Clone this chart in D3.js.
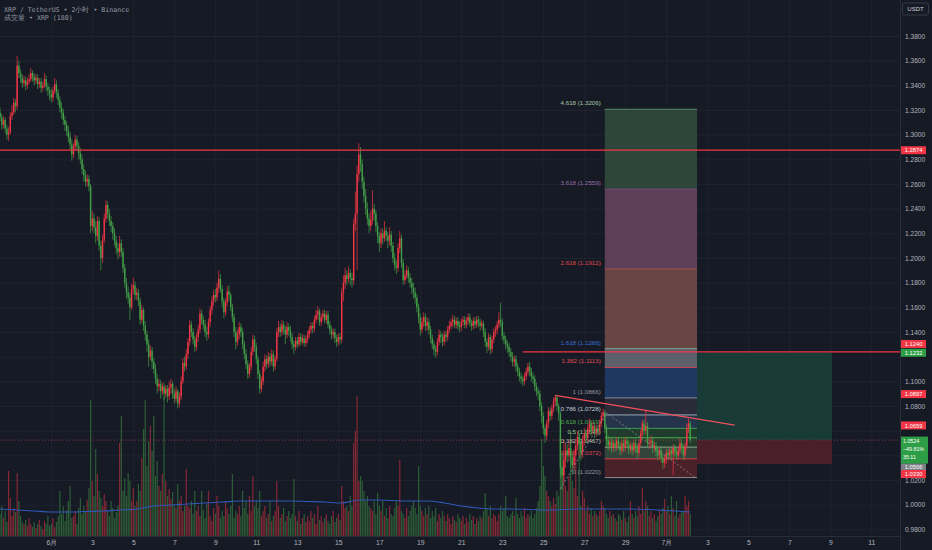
<!DOCTYPE html>
<html>
<head>
<meta charset="utf-8">
<script src="https://cdn.jsdelivr.net/npm/d3@7"></script>
<style>
html, body { margin: 0; padding: 0; background: #161a25; overflow: hidden; }
text { font-family: "Liberation Sans", "DejaVu Sans", sans-serif; }
</style>
</head>
<body>
<div id="chart"></div>
<script>
// XRP/USDT 2h candles, 29 May 12:00 -> 2 Jul
var startTime = Date.UTC(2025, 4, 29, 12);
var barMs = 2 * 3600 * 1000;
var firstOpen = 1.318;

var closes = [
  1.314,1.308,1.312,1.305,1.300,1.302,1.315,1.318,1.326,1.323,
  1.356,1.350,1.346,1.342,1.344,1.340,1.343,1.345,1.350,1.347,
  1.344,1.346,1.341,1.343,1.338,1.340,1.345,1.339,1.336,1.333,
  1.330,1.336,1.341,1.334,1.328,1.322,1.318,1.312,1.308,1.303,
  1.298,1.292,1.284,1.290,1.296,1.291,1.285,1.280,1.272,1.267,
  1.262,1.264,1.258,1.226,1.232,1.225,1.218,1.230,1.210,1.200,
  1.215,1.232,1.243,1.236,1.230,1.226,1.220,1.214,1.208,1.205,
  1.212,1.205,1.192,1.180,1.172,1.168,1.160,1.175,1.178,1.170,
  1.172,1.165,1.150,1.158,1.145,1.138,1.130,1.120,1.125,1.116,
  1.110,1.102,1.096,1.098,1.092,1.096,1.090,1.094,1.088,1.095,
  1.098,1.090,1.086,1.092,1.082,1.088,1.100,1.115,1.112,1.122,
  1.132,1.146,1.140,1.134,1.128,1.136,1.142,1.155,1.150,1.146,
  1.140,1.138,1.148,1.158,1.165,1.170,1.168,1.176,1.183,1.175,
  1.165,1.156,1.164,1.173,1.170,1.160,1.152,1.140,1.132,1.138,
  1.144,1.140,1.130,1.122,1.114,1.106,1.112,1.124,1.134,1.128,
  1.118,1.106,1.094,1.100,1.112,1.118,1.114,1.120,1.116,1.122,
  1.112,1.118,1.140,1.144,1.140,1.146,1.142,1.138,1.144,1.141,
  1.136,1.130,1.128,1.133,1.130,1.136,1.132,1.135,1.131,1.134,
  1.138,1.142,1.145,1.143,1.150,1.154,1.157,1.148,1.152,1.155,
  1.150,1.154,1.146,1.142,1.138,1.140,1.135,1.132,1.136,1.134,
  1.172,1.180,1.186,1.183,1.188,1.184,1.182,1.228,1.236,1.268,
  1.284,1.276,1.262,1.250,1.240,1.232,1.226,1.231,1.240,1.236,
  1.226,1.218,1.212,1.220,1.216,1.222,1.218,1.214,1.219,1.210,
  1.200,1.194,1.192,1.208,1.216,1.196,1.182,1.186,1.190,1.184,
  1.180,1.176,1.172,1.168,1.160,1.152,1.142,1.148,1.152,1.145,
  1.148,1.142,1.135,1.130,1.126,1.124,1.132,1.138,1.136,1.132,
  1.138,1.136,1.142,1.145,1.148,1.150,1.146,1.149,1.145,1.144,
  1.148,1.150,1.146,1.149,1.152,1.147,1.145,1.149,1.146,1.150,
  1.148,1.145,1.147,1.140,1.132,1.128,1.136,1.126,1.134,1.140,
  1.142,1.146,1.150,1.148,1.137,1.134,1.130,1.128,1.124,1.120,
  1.116,1.118,1.112,1.108,1.104,1.102,1.100,1.104,1.108,1.112,
  1.108,1.104,1.102,1.096,1.092,1.090,1.080,1.072,1.062,1.056,
  1.066,1.076,1.072,1.078,1.084,1.087,1.080,1.074,1.030,1.024,
  1.036,1.044,1.040,1.046,1.038,1.032,1.040,1.048,1.055,1.050,
  1.042,1.052,1.058,1.054,1.062,1.066,1.060,1.064,1.058,1.062,
  1.060,1.066,1.072,1.075,1.062,1.052,1.048,1.051,1.046,1.050,
  1.047,1.052,1.048,1.044,1.050,1.046,1.052,1.049,1.045,1.048,
  1.044,1.050,1.046,1.042,1.050,1.058,1.066,1.060,1.064,1.050,
  1.050,1.052,1.046,1.048,1.043,1.040,1.044,1.038,1.034,1.037,
  1.042,1.040,1.044,1.041,1.046,1.043,1.040,1.044,1.050,1.046,
  1.040,1.048,1.062,1.066,1.0524
];

var highs = [
  1.322,1.317,1.315,1.314,1.308,1.306,1.318,1.324,1.330,1.329,
  1.364,1.360,1.353,1.349,1.348,1.347,1.346,1.349,1.354,1.352,
  1.350,1.349,1.349,1.346,1.346,1.343,1.350,1.348,1.342,1.339,
  1.337,1.339,1.346,1.344,1.337,1.331,1.326,1.321,1.315,1.311,
  1.307,1.302,1.296,1.293,1.300,1.299,1.294,1.289,1.284,1.276,
  1.271,1.268,1.267,1.260,1.238,1.236,1.230,1.234,1.233,1.214,
  1.219,1.236,1.247,1.246,1.240,1.234,1.229,1.224,1.218,1.212,
  1.218,1.215,1.208,1.195,1.184,1.177,1.172,1.179,1.184,1.181,
  1.176,1.175,1.168,1.162,1.160,1.149,1.141,1.134,1.129,1.128,
  1.119,1.114,1.106,1.102,1.101,1.099,1.099,1.097,1.097,1.100,
  1.102,1.100,1.094,1.096,1.094,1.091,1.104,1.119,1.120,1.126,
  1.135,1.150,1.149,1.143,1.137,1.139,1.146,1.159,1.158,1.153,
  1.150,1.144,1.151,1.161,1.169,1.174,1.175,1.180,1.190,1.187,
  1.178,1.168,1.167,1.177,1.178,1.172,1.163,1.155,1.144,1.142,
  1.148,1.147,1.143,1.133,1.126,1.117,1.115,1.128,1.138,1.137,
  1.131,1.121,1.109,1.104,1.116,1.122,1.121,1.124,1.123,1.126,
  1.125,1.121,1.143,1.149,1.147,1.150,1.149,1.145,1.148,1.147,
  1.145,1.139,1.133,1.136,1.136,1.139,1.139,1.138,1.138,1.137,
  1.141,1.145,1.148,1.148,1.153,1.158,1.161,1.159,1.155,1.158,
  1.158,1.157,1.157,1.149,1.145,1.143,1.143,1.138,1.139,1.139,
  1.176,1.186,1.192,1.190,1.193,1.191,1.188,1.232,1.254,1.275,
  1.293,1.290,1.280,1.266,1.256,1.245,1.236,1.238,1.255,1.244,
  1.239,1.229,1.221,1.224,1.224,1.230,1.225,1.221,1.225,1.222,
  1.213,1.204,1.198,1.212,1.222,1.219,1.199,1.190,1.194,1.193,
  1.188,1.184,1.180,1.176,1.171,1.163,1.155,1.152,1.156,1.155,
  1.152,1.151,1.145,1.138,1.133,1.129,1.135,1.142,1.141,1.139,
  1.141,1.141,1.145,1.149,1.151,1.154,1.153,1.152,1.152,1.149,
  1.151,1.153,1.153,1.152,1.155,1.155,1.150,1.152,1.152,1.153,
  1.153,1.151,1.150,1.149,1.143,1.135,1.139,1.138,1.137,1.143,
  1.145,1.149,1.156,1.164,1.151,1.140,1.137,1.133,1.131,1.127,
  1.124,1.121,1.121,1.115,1.111,1.107,1.105,1.107,1.111,1.115,
  1.116,1.111,1.107,1.105,1.099,1.095,1.093,1.083,1.075,1.065,
  1.069,1.079,1.079,1.081,1.087,1.089,1.088,1.082,1.076,1.042,
  1.040,1.050,1.049,1.052,1.050,1.042,1.045,1.053,1.060,1.058,
  1.054,1.056,1.062,1.061,1.065,1.070,1.068,1.067,1.067,1.065,
  1.065,1.069,1.075,1.078,1.077,1.065,1.056,1.054,1.054,1.053,
  1.053,1.055,1.055,1.051,1.053,1.053,1.055,1.055,1.052,1.051,
  1.051,1.053,1.053,1.049,1.053,1.061,1.069,1.069,1.076,1.067,
  1.054,1.056,1.055,1.051,1.051,1.047,1.047,1.047,1.041,1.040,
  1.045,1.046,1.047,1.047,1.049,1.049,1.046,1.047,1.054,1.053,
  1.049,1.051,1.066,1.070,1.068
];

var lows = [
  1.311,1.304,1.305,1.301,1.296,1.295,1.300,1.312,1.316,1.318,
  1.320,1.346,1.342,1.338,1.339,1.336,1.337,1.341,1.343,1.343,
  1.340,1.341,1.337,1.338,1.334,1.335,1.338,1.335,1.331,1.328,
  1.326,1.327,1.333,1.330,1.324,1.318,1.313,1.308,1.303,1.299,
  1.294,1.288,1.279,1.281,1.287,1.287,1.280,1.276,1.268,1.262,
  1.258,1.258,1.254,1.220,1.222,1.220,1.212,1.214,1.206,1.190,
  1.196,1.212,1.229,1.232,1.226,1.221,1.215,1.210,1.203,1.199,
  1.201,1.201,1.188,1.176,1.167,1.163,1.150,1.158,1.171,1.166,
  1.166,1.161,1.146,1.147,1.141,1.133,1.124,1.112,1.117,1.110,
  1.106,1.098,1.090,1.092,1.086,1.089,1.085,1.087,1.083,1.085,
  1.090,1.086,1.082,1.083,1.078,1.079,1.085,1.098,1.108,1.109,
  1.118,1.129,1.136,1.130,1.124,1.125,1.132,1.139,1.146,1.142,
  1.136,1.133,1.135,1.144,1.154,1.161,1.164,1.165,1.172,1.172,
  1.160,1.151,1.153,1.161,1.165,1.157,1.148,1.136,1.126,1.129,
  1.134,1.136,1.126,1.118,1.110,1.102,1.103,1.109,1.121,1.124,
  1.114,1.102,1.090,1.091,1.097,1.108,1.110,1.111,1.112,1.113,
  1.108,1.109,1.116,1.136,1.136,1.137,1.138,1.130,1.135,1.137,
  1.132,1.126,1.122,1.125,1.127,1.128,1.129,1.130,1.128,1.128,
  1.131,1.135,1.139,1.139,1.140,1.147,1.150,1.145,1.145,1.149,
  1.147,1.147,1.143,1.138,1.134,1.135,1.131,1.128,1.129,1.130,
  1.131,1.165,1.175,1.178,1.180,1.178,1.176,1.178,1.222,1.190,
  1.262,1.270,1.256,1.245,1.235,1.227,1.220,1.222,1.227,1.230,
  1.221,1.212,1.205,1.208,1.211,1.213,1.214,1.208,1.210,1.205,
  1.196,1.190,1.187,1.189,1.204,1.192,1.178,1.179,1.183,1.180,
  1.176,1.171,1.167,1.163,1.156,1.147,1.137,1.139,1.144,1.141,
  1.141,1.138,1.131,1.126,1.121,1.119,1.121,1.129,1.131,1.128,
  1.129,1.132,1.133,1.139,1.142,1.144,1.143,1.143,1.142,1.140,
  1.141,1.145,1.143,1.143,1.146,1.144,1.141,1.142,1.143,1.143,
  1.144,1.141,1.142,1.136,1.128,1.123,1.125,1.122,1.123,1.131,
  1.136,1.138,1.143,1.144,1.133,1.130,1.126,1.123,1.120,1.116,
  1.112,1.112,1.108,1.104,1.100,1.098,1.096,1.097,1.101,1.105,
  1.104,1.100,1.098,1.092,1.088,1.085,1.076,1.066,1.057,1.050,
  1.052,1.062,1.068,1.069,1.075,1.080,1.076,1.068,1.022,1.012,
  1.018,1.030,1.034,1.035,1.030,1.024,1.028,1.036,1.044,1.044,
  1.036,1.038,1.048,1.050,1.051,1.058,1.056,1.057,1.054,1.055,
  1.056,1.057,1.063,1.068,1.058,1.048,1.044,1.045,1.042,1.043,
  1.043,1.044,1.045,1.040,1.041,1.043,1.043,1.046,1.041,1.042,
  1.040,1.041,1.042,1.037,1.039,1.047,1.055,1.056,1.057,1.046,
  1.045,1.046,1.042,1.043,1.039,1.036,1.037,1.034,1.029,1.030,
  1.033,1.036,1.037,1.037,1.024,1.039,1.036,1.037,1.041,1.042,
  1.036,1.037,1.045,1.058,1.050
];

// volume in millions of XRP
var volumes = [
  22,30,18,25,14,65,38,20,28,24,
  63,35,20,14,12,16,10,18,12,9,
  14,8,12,16,10,7,15,12,20,10,
  12,18,9,14,20,45,22,30,15,26,
  35,50,18,20,25,12,28,38,22,30,
  25,36,48,136,55,40,87,62,45,38,
  30,42,35,25,20,35,28,18,24,30,
  93,120,45,58,40,63,55,35,48,30,
  35,52,45,78,107,136,70,95,110,85,
  120,60,75,50,45,62,140,55,40,47,
  37,44,30,28,52,35,40,25,30,67,
  30,28,35,22,45,25,30,20,45,26,
  18,32,45,20,15,28,22,40,30,18,
  25,20,35,28,22,30,62,18,25,22,
  30,20,45,28,35,22,40,25,60,30,
  35,28,45,20,25,30,18,22,35,15,
  20,25,55,30,18,22,28,15,20,25,
  18,22,57,20,15,25,12,18,22,14,
  20,15,25,18,22,12,30,16,20,14,
  18,22,15,12,20,25,14,18,22,16,
  50,35,28,30,25,40,30,93,105,140,
  55,60,55,45,35,40,30,28,25,35,
  22,43,30,25,35,20,28,18,30,22,
  20,28,35,30,76,25,22,18,28,20,
  25,30,35,28,22,70,30,25,20,28,
  22,30,18,25,20,28,15,22,18,25,
  20,15,22,18,12,20,16,14,22,18,
  15,20,12,18,14,22,16,20,12,18,
  15,20,18,25,43,28,20,30,18,22,
  20,15,22,30,25,28,40,20,18,22,
  25,20,38,22,18,25,20,28,18,22,
  20,25,18,22,28,35,50,97,70,60,
  45,40,35,30,38,32,45,40,100,70,
  96,50,45,60,104,55,48,77,40,102,
  30,45,38,25,30,22,28,20,25,22,
  20,25,35,30,28,22,18,25,20,22,
  18,15,22,20,16,25,18,14,20,35,
  22,18,25,20,30,22,48,25,35,30,
  20,25,18,22,15,20,25,22,28,37,
  25,30,22,40,28,20,35,18,22,25,
  25,40,30,35,22
];

// volume MA(180), read every 10 bars
var maIndex = [0,10,20,30,40,50,60,70,80,90,100,110,120,130,140,150,160,170,180,190,
  200,210,220,230,240,250,260,270,280,290,300,310,320,330,340,350,360,370,380,390,400,404];
var maValues = [27,26,25,24,24,24.5,25,26,27,30,31,32,33,34,35,35,35,35,34.5,34,
  33,36,36,35.5,35,35,33,30,28,27,27,26.5,26,26.5,27,27,27,27,26.5,25.5,24.5,24];

var priceTicks = [0.98,1.00,1.02,1.04,1.06,1.08,1.10,1.12,1.14,1.16,1.18,1.20,
  1.22,1.24,1.26,1.28,1.30,1.32,1.34,1.36,1.38];

var tickDates = ["2025-06-01","2025-06-03","2025-06-05","2025-06-07","2025-06-09","2025-06-11",
  "2025-06-13","2025-06-15","2025-06-17","2025-06-19","2025-06-21","2025-06-23","2025-06-25",
  "2025-06-27","2025-06-29","2025-07-01","2025-07-03","2025-07-05","2025-07-07","2025-07-09","2025-07-11"];
var tickLabels = ["6月","3","5","7","9","11","13","15","17","19","21","23","25","27","29",
  "7月","3","5","7","9","11"];

// trend-based fib extension
var fibRatios = ["0","0.236","0.382","0.5","0.618","0.786","1","1.382","1.618","2.618","3.618","4.618"];
var fibPrices = [1.0220,1.0372,1.0467,1.0543,1.0619,1.0728,1.0866,1.1113,1.1266,1.1912,1.2559,1.3206];
var fibFrom = 354, fibTo = 408;               // bar indexes
var fibPath = [[328, 1.0130], [355, 1.0745], [407, 1.0220]];

// drawings
var resistance = 1.2874;
var targetLine = 1.1240, targetLineFrom = 306;
var trendStart = [325, 1.0887], trendEnd = [430, 1.0646];
var longFrom = 408, longTo = 487;
var longEntry = 1.0522, longTarget = 1.1232, longStop = 1.0330;

var lastPrice = 1.0524;
var lastLines = ["1.0524", "−49.81%", "35:11"];
var markLabels = ["1.2874","1.1240","1.1232","1.0897","1.0659","1.0506","1.0330"];
var markPrices = [1.2874, 1.1240, 1.1232, 1.0897, 1.0659, 1.0506, 1.0330];

// ---------------------------------------------------------------
var width = 932, height = 550, plotRight = 900, timeTop = 536;
var upColor = "#f23645", downColor = "#43a047";

var svg = d3.select("#chart").append("svg")
  .attr("width", width).attr("height", height)
  .style("display", "block");

svg.append("rect").attr("width", width).attr("height", height).attr("fill", "#161a25");

var barTime = function(i) { return new Date(startTime + i * barMs); };

var x = d3.scaleUtc()
  .domain([new Date(startTime), new Date(Date.UTC(2025, 6, 12))])
  .range([0.05, 891.8]);
var y = d3.scaleLinear().domain([0.98, 1.38]).range([529.4, 36]);
var vy = d3.scaleLinear().domain([0, 140]).range([timeTop, 396]);

var tickDateObjs = tickDates.map(function(s) { return new Date(s + "T00:00:00Z"); });

// grid
var grid = svg.append("g");
grid.append("g")
  .call(d3.axisLeft(y).tickValues(priceTicks).tickSize(-plotRight).tickFormat(""))
  .call(function(g) { g.select(".domain").remove(); })
  .selectAll("line").attr("stroke", "#1f2330");
grid.append("g")
  .call(d3.axisTop(x).tickValues(tickDateObjs).tickSize(-timeTop).tickFormat(""))
  .call(function(g) { g.select(".domain").remove(); })
  .selectAll("line").attr("stroke", "#1f2330");

var bars = closes.map(function(c, i) {
  var o = i === 0 ? firstOpen : closes[i - 1];
  return { t: barTime(i), o: o, c: c,
    h: Math.max(highs[i], o, c), l: Math.min(lows[i], o, c), v: volumes[i] };
});

// volume
svg.append("g").selectAll("rect").data(bars).enter().append("rect")
  .attr("x", function(d) { return x(d.t) - 0.6; })
  .attr("width", 1.2)
  .attr("y", function(d) { return vy(d.v); })
  .attr("height", function(d) { return timeTop - vy(d.v); })
  .attr("fill", function(d) { return d.c >= d.o ? upColor : downColor; })
  .attr("opacity", 0.5);

svg.append("path")
  .datum(maIndex.map(function(k, i) { return [k, maValues[i]]; }))
  .attr("fill", "none").attr("stroke", "#2f58b8").attr("stroke-width", 1.1)
  .attr("d", d3.line()
    .x(function(d) { return x(barTime(d[0])); })
    .y(function(d) { return vy(d[1]); })
    .curve(d3.curveMonotoneX));

// fib bands
var fibFill = ["#4a2029","#33453a","#223b2c","#1f3c2c","#25344b","#292c38","#1e3862","#5d5f6b","#6a4545","#5d3f58","#2e4639"];
var fibLine = ["#8a8d96","#d0404b","#8fae93","#4caf50","#3d9a50","#9aa7b8","#8a8d96","#c94450","#7b9e87","#a0504f","#7a4b78","#5a8a6a"];
var fibText = ["#9598a1","#e0474f","#b3c7b3","#8fd393","#4caf50","#c3ccd6","#9598a1","#e04a55","#3f6fd8","#e0474f","#9a6fa6","#a8c7a8"];
var fx0 = x(barTime(fibFrom)), fx1 = x(barTime(fibTo));

var fib = svg.append("g");
fib.selectAll("rect").data(fibPrices.slice(0, -1)).enter().append("rect")
  .attr("x", fx0).attr("width", fx1 - fx0)
  .attr("y", function(d, i) { return y(fibPrices[i + 1]); })
  .attr("height", function(d, i) { return y(d) - y(fibPrices[i + 1]); })
  .attr("fill", function(d, i) { return fibFill[i]; });
fib.selectAll("line").data(fibPrices).enter().append("line")
  .attr("x1", fx0).attr("x2", fx1)
  .attr("y1", function(d) { return y(d); }).attr("y2", function(d) { return y(d); })
  .attr("stroke", function(d, i) { return fibLine[i]; }).attr("stroke-width", 1);
fib.selectAll("text").data(fibPrices).enter().append("text")
  .attr("x", fx0 - 4).attr("y", function(d) { return y(d) - 4; })
  .attr("text-anchor", "end").attr("font-size", 6.2)
  .attr("fill", function(d, i) { return fibText[i]; })
  .text(function(d, i) { return fibRatios[i] + " (" + d.toFixed(4) + ")"; });

// long position tool
var lx0 = x(barTime(longFrom)), lx1 = x(barTime(longTo));
svg.append("rect").attr("x", lx0).attr("width", lx1 - lx0)
  .attr("y", y(longTarget)).attr("height", y(longEntry) - y(longTarget))
  .attr("fill", "#183b38");
svg.append("rect").attr("x", lx0).attr("width", lx1 - lx0)
  .attr("y", y(longEntry)).attr("height", y(longStop) - y(longEntry))
  .attr("fill", "#4a1f29");

// current price dotted line
svg.append("line").attr("x1", 0).attr("x2", plotRight)
  .attr("y1", y(lastPrice)).attr("y2", y(lastPrice))
  .attr("stroke", "#b04452").attr("stroke-dasharray", "1,2").attr("stroke-width", 0.8);

// candles
var candle = svg.append("g").selectAll("g").data(bars).enter().append("g");
candle.append("line")
  .attr("x1", function(d) { return x(d.t); }).attr("x2", function(d) { return x(d.t); })
  .attr("y1", function(d) { return y(d.h); }).attr("y2", function(d) { return y(d.l); })
  .attr("stroke", function(d) { return d.c >= d.o ? upColor : downColor; })
  .attr("stroke-width", 0.7);
candle.append("rect")
  .attr("x", function(d) { return x(d.t) - 0.7; })
  .attr("width", 1.4)
  .attr("y", function(d) { return y(Math.max(d.o, d.c)); })
  .attr("height", function(d) { return Math.max(0.8, Math.abs(y(d.o) - y(d.c))); })
  .attr("fill", function(d) { return d.c >= d.o ? upColor : downColor; });

// fib anchor path
svg.append("path")
  .datum(fibPath)
  .attr("fill", "none").attr("stroke", "#8a8d96").attr("stroke-width", 0.8)
  .attr("stroke-dasharray", "2,2")
  .attr("d", d3.line()
    .x(function(d) { return x(barTime(d[0])); })
    .y(function(d) { return y(d[1]); }));

// horizontal lines and trend line
svg.append("line").attr("x1", 0).attr("x2", plotRight)
  .attr("y1", y(resistance)).attr("y2", y(resistance))
  .attr("stroke", upColor).attr("stroke-width", 1.2);
svg.append("line").attr("x1", x(barTime(targetLineFrom))).attr("x2", plotRight)
  .attr("y1", y(targetLine)).attr("y2", y(targetLine))
  .attr("stroke", upColor).attr("stroke-width", 1.2);
svg.append("line")
  .attr("x1", x(barTime(trendStart[0]))).attr("y1", y(trendStart[1]))
  .attr("x2", x(barTime(trendEnd[0]))).attr("y2", y(trendEnd[1]))
  .attr("stroke", "#f0505c").attr("stroke-width", 1.2);

// header
svg.append("text").attr("x", 4).attr("y", 11.5)
  .attr("font-size", 6.6).attr("fill", "#9598a1").style("font-family", "DejaVu Sans Mono, monospace")
  .text("XRP / TetherUS • 2小时 • Binance");
svg.append("text").attr("x", 4).attr("y", 20)
  .attr("font-size", 6.6).attr("fill", "#9598a1").style("font-family", "DejaVu Sans Mono, monospace")
  .text("成交量 • XRP (180)");

// axes
svg.append("rect").attr("x", plotRight).attr("y", 0).attr("width", width - plotRight)
  .attr("height", height).attr("fill", "#161a25");
svg.append("line").attr("x1", plotRight + 0.5).attr("x2", plotRight + 0.5)
  .attr("y1", 0).attr("y2", height).attr("stroke", "#2a2e39");
svg.append("line").attr("x1", 0).attr("x2", plotRight)
  .attr("y1", timeTop + 0.5).attr("y2", timeTop + 0.5).attr("stroke", "#2a2e39");

// price labels on the axis: boxes first, so ticks hidden under them can be dropped
var markColors = ["#f23645","#f23645","#2e9e46","#f23645","#f23645","#7f8189","#f23645"];
var markNudge = [0, -7.8, 0, 0, 2, 25, 10];
var ly = y(lastPrice);
var boxes = markPrices.map(function(p, i) {
  var cy = y(p) + markNudge[i];
  return { top: cy - 4, bottom: cy + 4, cy: cy, i: i };
});
var lastBox = { top: ly - 3.5, bottom: ly + 23.5 };
var covered = function(v) {
  var ty = y(v);
  return boxes.concat([lastBox]).some(function(b) { return b.top - 2 < ty && b.bottom + 2 > ty; });
};

var yAxis = svg.append("g").attr("transform", "translate(" + plotRight + ",0)")
  .call(d3.axisRight(y).tickValues(priceTicks.filter(function(v) { return !covered(v); }))
    .tickSize(0).tickPadding(5).tickFormat(d3.format(".4f")));
yAxis.select(".domain").remove();
yAxis.selectAll("text").attr("fill", "#b2b5be").attr("font-size", 6.6)
  .style("font-family", "Liberation Sans, sans-serif");

var xAxis = svg.append("g").attr("transform", "translate(0," + timeTop + ")")
  .call(d3.axisBottom(x).tickValues(tickDateObjs).tickSize(0).tickPadding(4)
    .tickFormat(function(d, i) { return tickLabels[i]; }));
xAxis.select(".domain").remove();
xAxis.selectAll("text").attr("fill", "#b2b5be").attr("font-size", 6.8)
  .style("font-family", "Liberation Sans, sans-serif");

// USDT button
svg.append("rect").attr("x", 902.5).attr("y", 3).attr("width", 26).attr("height", 12)
  .attr("rx", 2).attr("fill", "#161a25").attr("stroke", "#363a45");
svg.append("text").attr("x", 915.5).attr("y", 11.3).attr("text-anchor", "middle")
  .attr("font-size", 6).attr("fill", "#d1d4dc").text("USDT");

var marks = svg.append("g");
boxes.forEach(function(b) {
  marks.append("rect").attr("x", 901).attr("y", b.top).attr("width", 25).attr("height", 8)
    .attr("fill", markColors[b.i]);
  marks.append("text").attr("x", 913.5).attr("y", b.cy + 2.1).attr("text-anchor", "middle")
    .attr("font-size", 5.8).attr("fill", "#ffffff").text(markLabels[b.i]);
});
marks.append("rect").attr("x", 901).attr("y", lastBox.top).attr("width", 27).attr("height", 27)
  .attr("fill", "#2e9e46");
lastLines.forEach(function(t, i) {
  marks.append("text").attr("x", 903).attr("y", ly + 2.8 + i * 8)
    .attr("font-size", 5.3).attr("fill", "#ffffff").text(t);
});
</script>
</body>
</html>
